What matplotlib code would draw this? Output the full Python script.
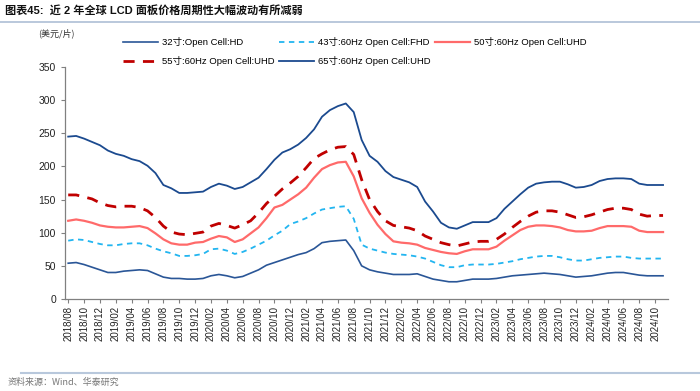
# plot.py
# 近 2 年全球 LCD 面板价格走势 (美元/片)

import matplotlib.pyplot as plt
from matplotlib.lines import Line2D
import pandas as pd


START_MONTH = "2018-08"

price_32 = [54, 55, 52, 48, 44, 40, 40, 42, 43, 44, 43, 38, 33, 31, 31, 30, 30, 31, 35, 37,
            35, 32, 34, 39, 44, 51, 55, 59, 63, 67, 70, 76, 85, 87, 88, 89, 73, 50, 44, 41,
            39, 37, 37, 37, 38, 34, 30, 28, 26, 26, 28, 30, 30, 30, 31, 33, 35, 36, 37, 38,
            39, 38, 37, 35, 33, 34, 35, 37, 39, 40, 40, 38, 36, 35, 35, 35]
price_43 = [88, 90, 89, 86, 83, 81, 81, 83, 84, 84, 81, 76, 72, 69, 65, 65, 66, 68, 75, 76,
            73, 68, 71, 76, 82, 88, 96, 103, 113, 117, 122, 129, 135, 137, 139, 140, 121, 82, 76, 73,
            70, 68, 67, 66, 64, 61, 56, 51, 48, 48, 51, 52, 52, 52, 53, 55, 57, 60, 62, 64,
            65, 65, 63, 60, 58, 58, 60, 62, 63, 64, 64, 62, 61, 61, 61, 61]
price_50 = [118, 120, 118, 115, 111, 109, 108, 108, 109, 110, 107, 99, 90, 84, 82, 82, 85, 86, 91, 95,
            93, 86, 90, 99, 108, 122, 138, 142, 150, 158, 168, 183, 196, 202, 206, 207, 185, 152, 130, 112,
            98, 87, 85, 84, 82, 77, 74, 71, 69, 68, 72, 75, 75, 75, 79, 88, 96, 104, 109, 111,
            111, 110, 108, 104, 102, 102, 103, 107, 110, 110, 110, 109, 103, 101, 101, 101]
price_55 = [157, 157, 154, 151, 145, 141, 139, 140, 140, 138, 133, 123, 110, 101, 98, 97, 99, 101, 110, 114,
            111, 107, 112, 118, 130, 144, 155, 166, 175, 185, 198, 212, 219, 225, 229, 230, 218, 180, 150, 132,
            118, 111, 109, 107, 103, 95, 90, 85, 82, 80, 83, 86, 87, 87, 90, 98, 108, 117, 125, 131,
            133, 133, 131, 127, 123, 124, 127, 131, 135, 137, 137, 135, 128, 125, 126, 126]
price_65 = [245, 246, 242, 237, 232, 224, 219, 216, 211, 208, 201, 190, 172, 167, 160, 160, 161, 162, 169, 174,
            171, 166, 169, 176, 183, 196, 210, 221, 226, 233, 243, 256, 275, 285, 291, 295, 282, 240, 216, 207,
            193, 184, 180, 176, 169, 147, 132, 115, 108, 106, 111, 116, 116, 116, 122, 136, 147, 158, 168, 174,
            176, 177, 177, 173, 168, 169, 172, 178, 181, 182, 182, 181, 174, 172, 172, 172]

series_labels = [
    "32寸:Open Cell:HD",
    "43寸:60Hz Open Cell:FHD",
    "50寸:60Hz Open Cell:UHD",
    "55寸:60Hz Open Cell:UHD",
    "65寸:60Hz Open Cell:UHD",
]

TITLE = "图表45:  近 2 年全球 LCD 面板价格周期性大幅波动有所减弱"
UNIT = "(美元/片)"
SOURCE = "资料来源：Wind、华泰研究"

FONT_MIX = ["Liberation Sans", "Noto Sans CJK SC", "DejaVu Sans"]
FONT_CJK = ["Noto Sans CJK SC", "DejaVu Sans"]


def month_labels(n: int) -> list[str]:
    months = pd.period_range(START_MONTH, periods=n, freq="M")
    return [m.strftime("%Y/%m") for m in months]


def plot_prices(save_path: str) -> None:
    plt.rcParams["font.family"] = FONT_MIX
    plt.rcParams["axes.unicode_minus"] = False

    fig = plt.figure(figsize=(7.0, 3.91), dpi=100)
    ax = fig.add_axes([0.0929, 0.2353, 0.8611, 0.5933])

    x = list(range(len(price_65)))
    styles = [
        (price_32, dict(color="#2a5697", lw=1.2, ls="-")),
        (price_43, dict(color="#22b5f0", lw=1.3, ls=(0, (3, 2.5)))),
        (price_50, dict(color="#ff6a6a", lw=1.6, ls="-")),
        (price_55, dict(color="#c00000", lw=2.0, ls=(0, (4, 3)))),
        (price_65, dict(color="#1b4a8f", lw=1.3, ls="-")),
    ]
    handles = []
    for (values, style), label in zip(styles, series_labels):
        (line,) = ax.plot(x, values, label=label, **style)
        handles.append(line)

    ax.set_xlim(-0.4, 75.6)
    ax.set_ylim(0, 350)
    ax.set_yticks(range(0, 351, 50))

    labels = month_labels(len(x))
    ax.set_xticks(x[::2])
    ax.set_xticklabels(labels[::2], rotation=90, fontsize=7, color="#222222")
    ax.tick_params(axis="y", labelsize=7.5, colors="#222222", length=3, color="#808080")
    ax.tick_params(axis="x", length=3, color="#808080", pad=2)

    for side in ["top", "right"]:
        ax.spines[side].set_visible(False)
    for side in ["left", "bottom"]:
        ax.spines[side].set_color("#808080")
        ax.spines[side].set_linewidth(0.9)

    # 图例: 第一行 32/43/50, 第二行 55/65
    order = [0, 3, 1, 4, 2]
    fig.legend(
        [handles[i] for i in order],
        [series_labels[i] for i in order],
        ncol=3,
        loc="upper left",
        bbox_to_anchor=(0.176, 0.905),
        frameon=False,
        fontsize=6.8,
        handlelength=3.7,
        handletextpad=0.4,
        columnspacing=0.5,
        labelspacing=0.95,
        borderaxespad=0,
        borderpad=0,
    )

    fig.text(0.007, 0.974, TITLE, fontsize=8.0, fontweight="bold",
             family=["Liberation Sans", "Noto Sans CJK SC"], va="center", ha="left",
             color="#111111")
    fig.add_artist(Line2D([0.0, 1.0], [0.944, 0.944], transform=fig.transFigure,
                          color="#aebfd6", lw=1.2))
    fig.text(0.055, 0.915, UNIT, fontsize=6.5, family=FONT_CJK, va="center",
             ha="left", color="#333333")

    fig.add_artist(Line2D([0.03, 1.0], [0.046, 0.046], transform=fig.transFigure,
                          color="#b8c8dc", lw=1.5))
    fig.text(0.011, 0.022, SOURCE, fontsize=6.5, family=FONT_CJK, va="center",
             ha="left", color="#777777")

    fig.savefig(save_path, dpi=100)
    plt.close(fig)


if __name__ == "__main__":
    plot_prices("out.png")
